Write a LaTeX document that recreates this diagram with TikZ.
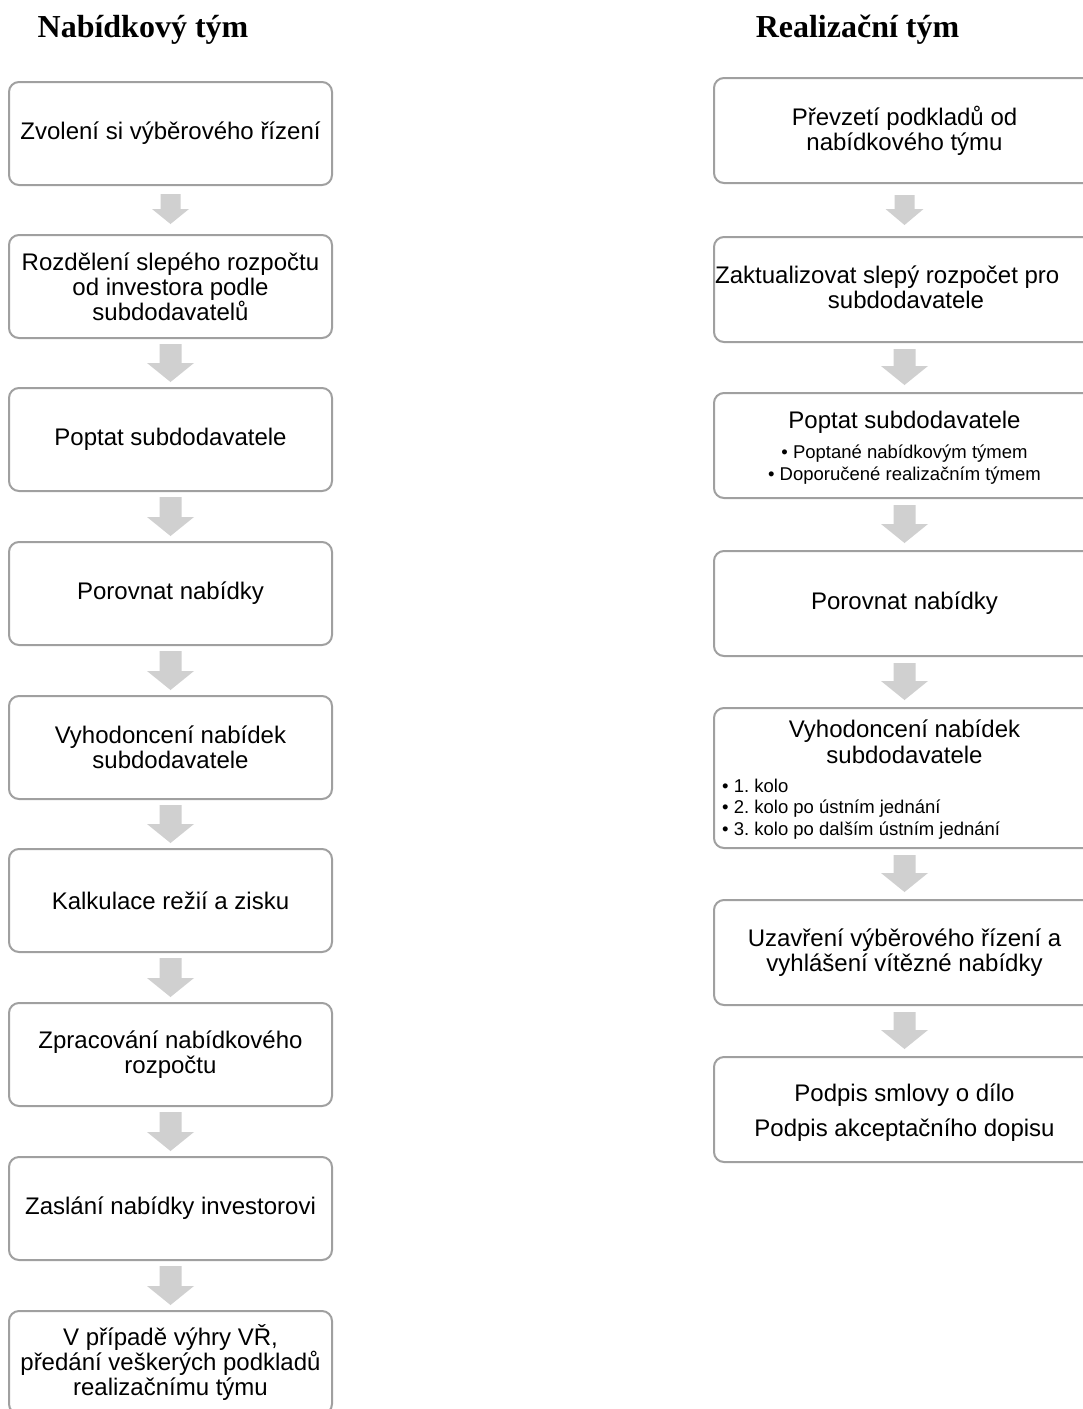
\documentclass[tikz,border=0pt]{standalone}
\usepackage{fontspec}
\setmainfont{Liberation Sans}
\newfontfamily\titlefont{Liberation Serif}
\usetikzlibrary{calc}
\frenchspacing
\definecolor{boxgray}{HTML}{A0A0A0}
\definecolor{arrowgray}{HTML}{D0D0D0}
\newcommand\mainfs{\fontsize{24}{25}\selectfont}
\newcommand\bulletfs{\fontsize{18.5}{21.5}\selectfont}
% #1 from node, #2 to node, #3 shaft half width, #4 head half width, #5 head length, #6 top gap, #7 bottom gap
\newcommand\blockarrow[7]{%
  \fill[arrowgray] ($(#1.south)+(-#3,#6)$) -- ($(#2.north)+(-#3,-#7-#5)$)
    -- ($(#2.north)+(-#4,-#7-#5)$) -- ($(#2.north)+(0,-#7)$)
    -- ($(#2.north)+(#4,-#7-#5)$) -- ($(#2.north)+(#3,-#7-#5)$)
    -- ($(#1.south)+(#3,#6)$) -- cycle;}
\begin{document}
\begin{tikzpicture}[x=1pt,y=-1pt,
  box/.style={draw=boxgray, line width=2pt, rounded corners=10pt, fill=white,
    align=center, inner sep=0pt, font=\mainfs},
  lbox/.style={box, minimum width=323pt, minimum height=103pt},
  rbox/.style={box, minimum width=381pt, minimum height=105pt},
  titletext/.style={font=\titlefont\bfseries\fontsize{32}{34}\selectfont, anchor=base, inner sep=0pt},
  plain/.style={inner sep=0pt, font=\mainfs, align=center}]
\useasboundingbox (0,0) rectangle (1083,1409);
\clip (0,0) rectangle (1083,1409);
\fill[white] (0,0) rectangle (1083,1409);

\node[titletext] (tl) at (143,37) {Nabídkový tým};
\node[titletext] (tr) at (857.5,37) {Realizační tým};

% left column
\node[lbox] (L1) at (170.5,133.5) {Zvolení si výběrového řízení};
\node[lbox] (L2) at (170.5,286.5) {Rozdělení slepého rozpočtu\\od investora podle\\subdodavatelů};
\node[lbox] (L3) at (170.5,439.5) {Poptat subdodavatele};
\node[lbox] (L4) at (170.5,593.5) {Porovnat nabídky};
\node[lbox] (L5) at (170.5,747.5) {Vyhodoncení nabídek\\subdodavatele};
\node[lbox] (L6) at (170.5,900.5) {Kalkulace režií a zisku};
\node[lbox] (L7) at (170.5,1054.5) {Zpracování nabídkového\\rozpočtu};
\node[lbox] (L8) at (170.5,1208.5) {Zaslání nabídky investorovi};
\node[lbox] (L9) at (170.5,1362.5) {V případě výhry VŘ,\\předání veškerých podkladů\\realizačnímu týmu};

\blockarrow{L1}{L2}{10}{18.5}{15}{8}{10}
\blockarrow{L2}{L3}{11}{23.5}{19}{5}{5}
\blockarrow{L3}{L4}{11}{23.5}{19}{5}{5}
\blockarrow{L4}{L5}{11}{23.5}{19}{5}{5}
\blockarrow{L5}{L6}{11}{23.5}{19}{5}{5}
\blockarrow{L6}{L7}{11}{23.5}{19}{5}{5}
\blockarrow{L7}{L8}{11}{23.5}{19}{5}{5}
\blockarrow{L8}{L9}{11}{23.5}{19}{5}{5}

% right column
\node[rbox] (R1) at (904.5,130.5) {Převzetí podkladů od\\nabídkového týmu};
\node[rbox] (R2) at (904.5,289.5) {};
\node[plain, anchor=base west] (R2a) at (715,283) {Zaktualizovat slepý rozpočet pro};
\node[plain, anchor=base] (R2b) at (906,308) {subdodavatele};
\node[rbox] (R3) at (904.5,445.5) {};
\node[plain, anchor=base] (R3a) at (904.5,428) {Poptat subdodavatele};
\node[plain, anchor=base, font=\bulletfs] (R3b) at (904.5,458) {• Poptané nabídkovým týmem};
\node[plain, anchor=base, font=\bulletfs] (R3c) at (904.5,480) {• Doporučené realizačním týmem};
\node[rbox] (R4) at (904.5,603.5) {Porovnat nabídky};
\node[rbox, minimum height=140pt] (R5) at (904.5,778) {};
\node[plain, anchor=base] (R5a) at (904.5,737) {Vyhodoncení nabídek};
\node[plain, anchor=base] (R5b) at (904.5,763) {subdodavatele};
\node[plain, anchor=base west, font=\bulletfs] (R5c) at (722,792) {• 1. kolo};
\node[plain, anchor=base west, font=\bulletfs] (R5d) at (722,813.5) {• 2. kolo po ústním jednání};
\node[plain, anchor=base west, font=\bulletfs] (R5e) at (722,835) {• 3. kolo po dalším ústním jednání};
\node[rbox] (R6) at (904.5,952.5) {Uzavření výběrového řízení a\\vyhlášení vítězné nabídky};
\node[rbox] (R7) at (904.5,1109.5) {};
\node[plain, anchor=base] (R7a) at (904.5,1101) {Podpis smlovy o dílo};
\node[plain, anchor=base] (R7b) at (904.5,1136) {Podpis akceptačního dopisu};

\blockarrow{R1}{R2}{10}{19}{16}{11}{11}
\blockarrow{R2}{R3}{11}{23.5}{19}{6}{7}
\blockarrow{R3}{R4}{11}{23.5}{19}{6}{7}
\blockarrow{R4}{R5}{11}{23.5}{19}{6}{7}
\blockarrow{R5}{R6}{11}{23.5}{19}{6}{7}
\blockarrow{R6}{R7}{11}{23.5}{19}{6}{7}
\end{tikzpicture}
\end{document}
